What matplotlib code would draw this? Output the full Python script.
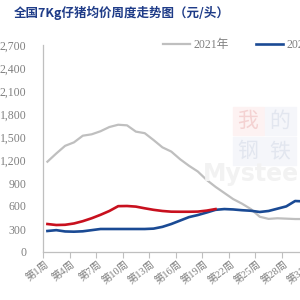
import matplotlib
matplotlib.use('Agg')
import matplotlib.pyplot as plt
from matplotlib.patches import Rectangle

plt.rcParams['font.family'] = ['Liberation Serif', 'Noto Sans CJK SC', 'DejaVu Sans']

weeks_2021 = list(range(1, 32))
price_2021 = [1178, 1285, 1385, 1430, 1517, 1535, 1575, 1630, 1660, 1652,
              1570, 1550, 1460, 1365, 1310, 1210, 1125, 1050, 940, 850,
              770, 690, 630, 560, 460, 432, 440, 435, 430, 430, 430]

weeks_2022 = list(range(1, 31))
price_2022 = [274, 285, 268, 265, 270, 285, 300, 300, 300, 300,
              300, 300, 305, 328, 365, 410, 455, 482, 515, 550,
              560, 555, 545, 538, 522, 535, 565, 595, 665, 660]

weeks_2023 = list(range(1, 21))
price_2023 = [365, 352, 355, 372, 402, 440, 485, 535, 598, 600,
              592, 570, 550, 535, 526, 525, 525, 527, 540, 560]

labels = ['2021年', '2022年', '2023年']
tick_weeks = list(range(1, 32, 3))
tick_labels = ['第%d周' % w for w in tick_weeks]

fig = plt.figure(figsize=(3, 3), dpi=100)

# watermark (very faint)
for x0, y0, c in [(233, 135, '#FDF2F2'), (265, 135, '#F5F6FA'),
                  (233, 165, '#F5F6FA'), (265, 165, '#F5F6FA')]:
    fig.patches.append(Rectangle((x0/300, 1-y0/300), 31/300, 28/300,
                                 transform=fig.transFigure, color=c, zorder=0))
for ch, x, y, c in [('我', 248, 121, '#F4D2D2'), ('的', 280, 121, '#E2E6EF'),
                    ('钢', 248, 151, '#E2E6EF'), ('铁', 280, 151, '#E2E6EF')]:
    fig.text(x/300, 1-y/300, ch, fontsize=15, color=c, ha='center', va='center',
             family=['Noto Sans CJK SC'], zorder=0)
fig.text(255/300, 1-174/300, 'Mysteel', fontsize=17, color='#F2F2F2', ha='center', va='center',
         family=['DejaVu Sans'], fontweight='bold', zorder=0)

ax = fig.add_axes([43/300, 48/300, 460/300, 207/300])
ax.patch.set_alpha(0)

ax.plot(weeks_2021, price_2021, color='#BFBFBF', lw=1.6, label=labels[0])
ax.plot(weeks_2022, price_2022, color='#1A4A94', lw=1.9, label=labels[1])
ax.plot(weeks_2023, price_2023, color='#C8101E', lw=1.9, label=labels[2])

ax.set_xlim(0.5, 52.5)
ax.set_ylim(0, 2700)
ax.set_yticks(range(0, 2701, 300))
ax.set_yticklabels(['{:,}'.format(v) for v in range(0, 2701, 300)])
ax.set_xticks(tick_weeks)
ax.set_xticklabels(tick_labels, rotation=38, ha='right', va='center', rotation_mode='anchor')
ax.set_xticks([w - 0.5 for w in range(1, 53, 3)], minor=True)
ax.tick_params(axis='x', which='major', length=0, pad=8, labelsize=7.5, labelcolor='#808080')
ax.tick_params(axis='x', which='minor', length=4, color='#BFBFBF', width=0.8)
ax.tick_params(axis='y', length=0, pad=12, labelsize=8.5, labelcolor='#808080')

for s in ['top', 'right']:
    ax.spines[s].set_visible(False)
for s in ['left', 'bottom']:
    ax.spines[s].set_color('#BFBFBF')
    ax.spines[s].set_linewidth(0.9)

fig.legend(loc='center left', bbox_to_anchor=(163/300, 1-45/300), ncol=3, frameon=False,
           fontsize=8.5, handlelength=2.3, handletextpad=0.3, columnspacing=2.3,
           borderpad=0, borderaxespad=0, labelcolor='#808080')

fig.text(14/300, 1-13/300, '全国7Kg仔猪均价周度走势图（元/头）', fontsize=9, fontweight='bold',
         color='#1F3C88', ha='left', va='center', family=['Noto Sans CJK SC'])

fig.savefig('out.png', dpi=100)
